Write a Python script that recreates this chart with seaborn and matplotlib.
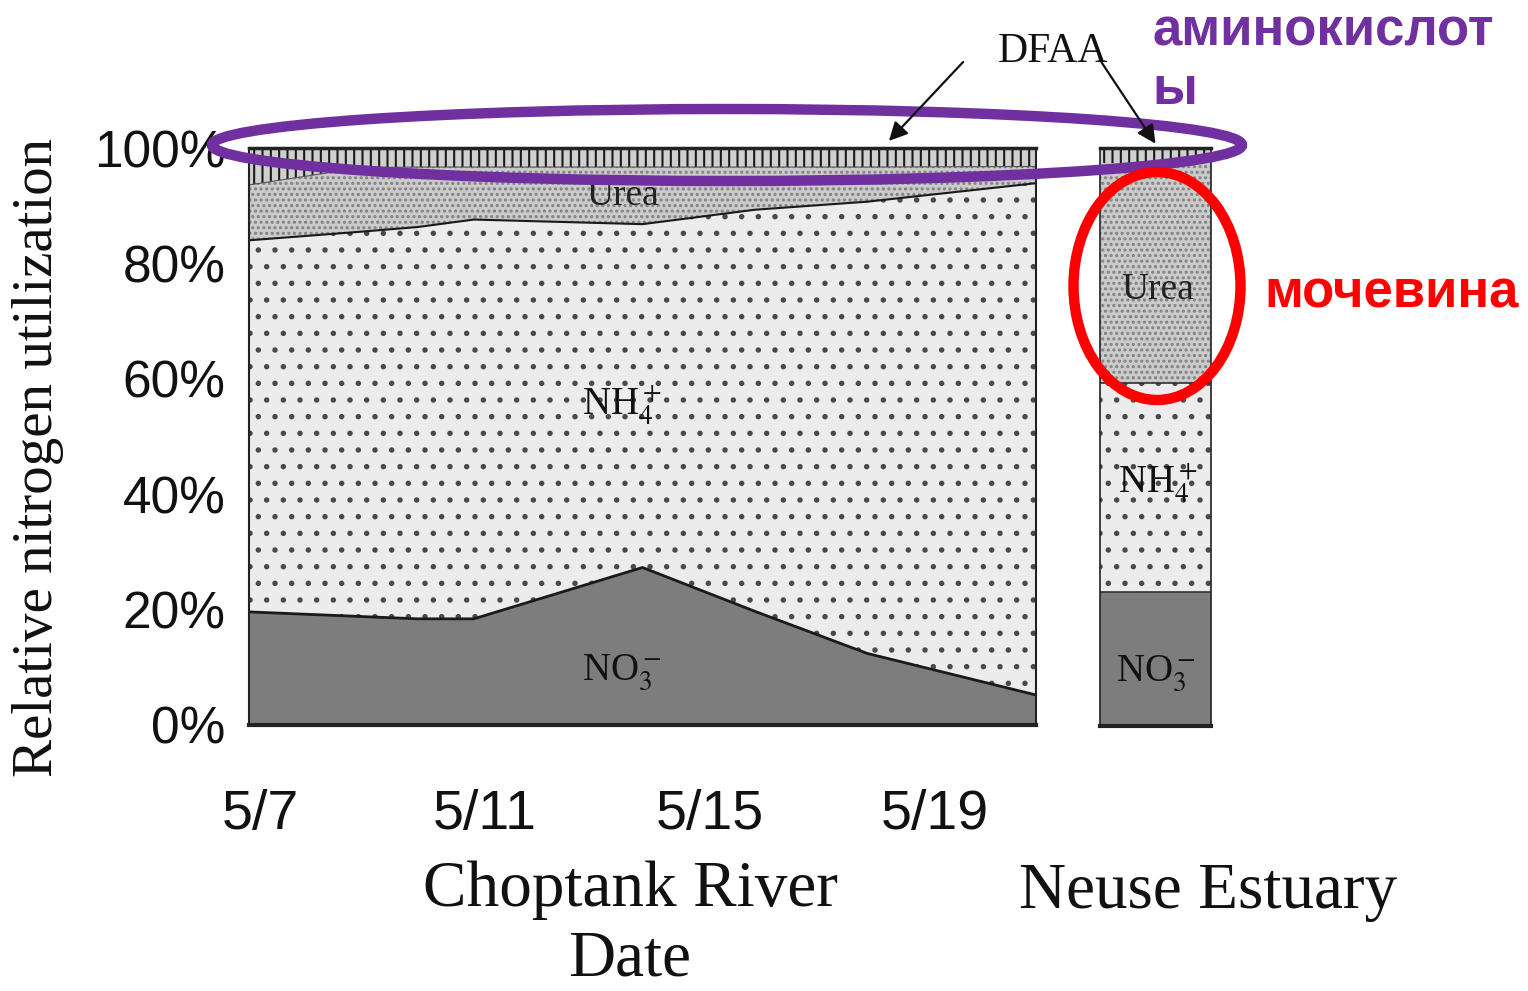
import numpy as np
import pandas as pd
import matplotlib
matplotlib.use("Agg")
import matplotlib.pyplot as plt
import matplotlib.transforms as mtransforms
from matplotlib import font_manager
from matplotlib.patches import Ellipse
import seaborn as sns

# ---- Choptank River: relative N uptake (%) by sampling day in May ----
may_day = [7, 9, 10, 11, 14, 16, 18, 21]
no3 = [19.6, 18.8, 18.4, 18.4, 27.3, 19.7, 12.4, 5.2]
nh4 = [64.4, 66.7, 67.9, 69.2, 59.5, 69.6, 78.3, 88.7]
urea = [9.6, 11.1, 10.4, 9.1, 9.9, 7.4, 6.0, 2.9]
dfaa = [6.4, 3.4, 3.3, 3.3, 3.3, 3.3, 3.3, 3.2]

tick_days = [7, 11, 15, 19]
tick_labels = ["5/7", "5/11", "5/15", "5/19"]
y_ticks = [0, 20, 40, 60, 80, 100]
y_tick_labels = ["0%", "20%", "40%", "60%", "80%", "100%"]

# ---- Neuse Estuary: single composition ----
neuse_species = ["NO3", "NH4", "Urea", "DFAA"]
neuse_share = [23.1, 36.3, 38.0, 2.6]

# ---- style ----
sns.set_theme(style="white")
plt.rcParams["font.family"] = ["Liberation Serif", "DejaVu Serif"]
plt.rcParams["mathtext.fontset"] = "stix"
plt.rcParams["hatch.linewidth"] = 1.5
for key in ("text.color", "axes.labelcolor", "xtick.color", "ytick.color"):
    plt.rcParams[key] = "#111111"

names = {f.name for f in font_manager.fontManager.ttflist}
narrow = "Liberation Sans Narrow" in names
date_font = "Liberation Sans Narrow" if narrow else "Liberation Sans"
date_size = 46 if narrow else 40

NO3_C = "#7d7d7d"
NH4_BG, NH4_DOT = "#ececec", "#4a4a4a"
UREA_BG, UREA_DOT = "#cbcbcb", "#828282"
DFAA_BG, DFAA_LINE = "#cfcfcf", "#1a1a1a"
EDGE = "#222222"

W, H = 1528, 991
fig = plt.figure(figsize=(W / 100, H / 100), dpi=100)


def px_box(x0, y0, x1, y1):
    return [x0 / W, 1 - y1 / H, (x1 - x0) / W, (y1 - y0) / H]


ax = fig.add_axes(px_box(249, 148, 1036, 725))
axb = fig.add_axes(px_box(1100, 148, 1211, 726))

# ---- stacked areas ----
df = pd.DataFrame({"day": may_day, "NO3": no3, "NH4": nh4, "Urea": urea, "DFAA": dfaa})
c1 = df["NO3"]
c2 = c1 + df["NH4"]
c3 = c2 + df["Urea"]
c4 = c3 + df["DFAA"]

ax.fill_between(df["day"], 0, c1, facecolor=NO3_C, linewidth=0)
ax.fill_between(df["day"], c1, c2, facecolor=NH4_BG, edgecolor=NH4_DOT, hatch=".", linewidth=0)
ax.fill_between(df["day"], c2, c3, facecolor=UREA_BG, edgecolor=UREA_DOT, hatch="...", linewidth=0)
ax.fill_between(df["day"], c3, c4, facecolor=DFAA_BG, edgecolor=DFAA_LINE, hatch="||", linewidth=0)

sns.lineplot(x=df["day"], y=c1, ax=ax, color="#1a1a1a", linewidth=2.0)
sns.lineplot(x=df["day"], y=c2, ax=ax, color="#1a1a1a", linewidth=1.5)
sns.lineplot(x=df["day"], y=c3, ax=ax, color="#555555", linewidth=0.8)

ax.set_xlim(7, 21)
ax.set_ylim(0, 100)
ax.set_xticks(tick_days)
ax.set_xticklabels(tick_labels, fontfamily=date_font, fontsize=date_size)
ax.set_yticks(y_ticks)
ax.set_yticklabels(y_tick_labels, fontfamily="Liberation Sans", fontsize=37)
ax.tick_params(axis="x", direction="in", length=11, width=1.5, color=EDGE, pad=46)
ax.tick_params(axis="y", length=0, pad=17)
shift = mtransforms.ScaledTranslation(11 / 100, 0, fig.dpi_scale_trans)
for lab in ax.get_xticklabels():
    lab.set_transform(lab.get_transform() + shift)

for side, sp in ax.spines.items():
    sp.set_visible(True)
    sp.set_color(EDGE)
    sp.set_linewidth(1.5)
ax.spines["bottom"].set_linewidth(3)
ax.spines["top"].set_linewidth(2.5)

ax.set_ylabel("Relative nitrogen utilization", fontsize=41, va="center")
ax.yaxis.set_label_coords((38 - 249) / 787, (725 - 457) / 577)
ax.set_xlabel("Choptank River\nDate", fontsize=47, linespacing=1.2, va="top")
ax.xaxis.set_label_coords((630 - 249) / 787, (725 - 861) / 577)

# region labels inside the areas
ax.text(13.64, 91.8, "Urea", fontsize=27, ha="center", va="center", color="#222222")
ax.text(13.64, 55.5, r"NH$_4^+$", fontsize=28, ha="center", va="center")
ax.text(13.64, 9.2, r"NO$_3^-$", fontsize=28, ha="center", va="center")

# ---- Neuse Estuary stacked bar ----
styles = {
    "NO3": dict(facecolor=NO3_C, edgecolor=NO3_C, hatch=None),
    "NH4": dict(facecolor=NH4_BG, edgecolor=NH4_DOT, hatch="."),
    "Urea": dict(facecolor=UREA_BG, edgecolor=UREA_DOT, hatch="..."),
    "DFAA": dict(facecolor=DFAA_BG, edgecolor=DFAA_LINE, hatch="||"),
}
bottom = 0.0
for sp_name, share in zip(neuse_species, neuse_share):
    axb.bar(0, share, bottom=bottom, width=1.0, linewidth=0, **styles[sp_name])
    bottom += share
cum = np.cumsum(neuse_share)
for level in cum[:2]:
    axb.axhline(level, color="#333333", linewidth=1.2)

axb.set_xlim(-0.5, 0.5)
axb.set_ylim(0, 100)
axb.set_xticks([])
axb.set_yticks([])
for side, sp in axb.spines.items():
    sp.set_visible(True)
    sp.set_color(EDGE)
    sp.set_linewidth(1.2)
axb.spines["bottom"].set_linewidth(3)
axb.spines["top"].set_linewidth(2.5)

axb.text(0.02, 75.4, "Urea", fontsize=27, ha="center", va="center", color="#222222")
axb.text(0.02, 42.1, r"NH$_4^+$", fontsize=28, ha="center", va="center")
axb.text(0.0, 9.2, r"NO$_3^-$", fontsize=28, ha="center", va="center")

axb.set_xlabel("Neuse Estuary", fontsize=47, va="top")
axb.xaxis.set_label_coords((1208 - 1100) / 111, (725 - 861) / 577)

# ---- overlay: DFAA pointer, highlight ellipses, Russian captions ----
ov = fig.add_axes([0, 0, 1, 1])
ov.set_xlim(0, W)
ov.set_ylim(H, 0)
ov.axis("off")
ov.patch.set_visible(False)

ov.text(1053, 52, "DFAA", fontsize=30, ha="center", va="center")
arrow = dict(arrowstyle="-|>", color="#111111", lw=1.6, mutation_scale=28)
ov.annotate("", xy=(887, 143), xytext=(965, 60), arrowprops=arrow)
ov.annotate("", xy=(1157, 146), xytext=(1100, 60), arrowprops=arrow)

ov.add_patch(Ellipse((727, 145), 1030, 72, fill=False, edgecolor="#7030A0", linewidth=7.5))
ov.add_patch(Ellipse((1157, 286), 167, 228, fill=False, edgecolor="#FF0000", linewidth=7.5))

ov.text(1152, 45, "аминокислот", fontsize=38, fontweight="bold", color="#7030A0",
        fontfamily="Liberation Sans", ha="left", va="baseline")
ov.text(1152, 104, "ы", fontsize=38, fontweight="bold", color="#7030A0",
        fontfamily="Liberation Sans", ha="left", va="baseline")
ov.text(1264, 307, "мочевина", fontsize=38, fontweight="bold", color="#FF0000",
        fontfamily="Liberation Sans", ha="left", va="baseline")

fig.savefig("out.png", dpi=100, facecolor="white")
